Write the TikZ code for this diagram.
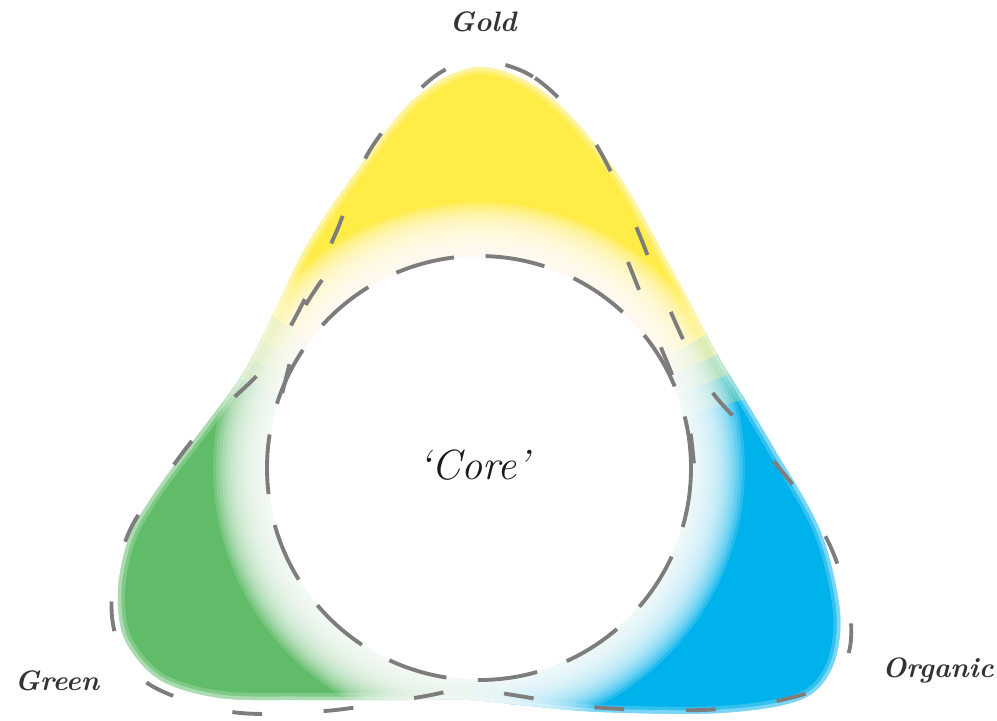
\documentclass[tikz,border=0pt]{standalone}
\usepackage{tikz}

\definecolor{goldyellow}{RGB}{255,236,70}
\definecolor{leafgreen}{RGB}{96,188,104}
\definecolor{skyblue}{RGB}{0,178,236}
\definecolor{dashgray}{RGB}{125,125,125}

% soft edge of the coloured area
\newcommand\lobeoutline{plot[smooth cycle, tension=0.55] coordinates {(480,67) (548,95) (615,170) (668,262) (715,350) (744,398) (772,445) (820,530) (840,612) (832,668) (800,700) (720,713) (600,712) (520,705) (470,700) (400,700) (300,700) (220,698) (160,680) (125,640) (118,590) (130,535) (160,485) (203,428) (243,373) (275,310) (305,248) (350,180) (415,98)}}

\tikzset{
  rimline/.style={dashgray, line width=1.1pt, dash pattern=on 8.5pt off 17.5pt},
  coreline/.style={dashgray, line width=1.1pt, dash pattern=on 17pt off 9pt},
  tagtext/.style={font=\fontsize{8}{10}\selectfont\bfseries\itshape, text=black!80}
}

\begin{document}
\begin{tikzpicture}[x=0.01cm, y=-0.01cm]
    \useasboundingbox (0,0) rectangle (997,720);
    \coordinate (c) at (479,468);

    % Coloured lobes, faded towards the core
    \begin{scope}
        \clip \lobeoutline;
        \fill[shift={(c)}, goldyellow] (0,0) -- (215.5:900) -- (273:900) -- (330.5:900) -- cycle;
        \fill[shift={(c)}, leafgreen] (0,0) -- (97.5:900) -- (150:900) -- (201.5:900) -- cycle;
        \fill[shift={(c)}, skyblue] (0,0) -- (-15.5:900) -- (34:900) -- (82.5:900) -- cycle;
        % blends between neighbours
        \fill[shift={(c)}, leafgreen!75!goldyellow] (0,0) -- (200.5:900) -- (206.5:900) -- cycle;
        \fill[shift={(c)}, leafgreen!50!goldyellow] (0,0) -- (205.5:900) -- (211.5:900) -- cycle;
        \fill[shift={(c)}, leafgreen!25!goldyellow] (0,0) -- (210.5:900) -- (216.5:900) -- cycle;
        \fill[shift={(c)}, goldyellow!75!skyblue] (0,0) -- (329.5:900) -- (335.5:900) -- cycle;
        \fill[shift={(c)}, goldyellow!50!skyblue] (0,0) -- (334.5:900) -- (340.5:900) -- cycle;
        \fill[shift={(c)}, goldyellow!25!skyblue] (0,0) -- (339.5:900) -- (345.5:900) -- cycle;
        \fill[shift={(c)}, skyblue!75!leafgreen] (0,0) -- (81.5:900) -- (87.5:900) -- cycle;
        \fill[shift={(c)}, skyblue!50!leafgreen] (0,0) -- (86.5:900) -- (93.5:900) -- cycle;
        \fill[shift={(c)}, skyblue!25!leafgreen] (0,0) -- (92.5:900) -- (98.5:900) -- cycle;
        % blurred rim
        \draw[white, line width=4pt, opacity=0.2] \lobeoutline;
        \draw[white, line width=2pt, opacity=0.35] \lobeoutline;
        % white haze round the core
        \foreach \r in {266,263,...,212}
            \fill[white, fill opacity=0.15] (c) circle (\r);
        \fill[white] (c) circle (211);
    \end{scope}

    % Dashed rim of the three lobes
    \draw[rimline] plot[smooth cycle, tension=0.55] coordinates {(478,61) (535,78) (590,135) (631,215) (663,294) (693,360) (716,397) (760,445) (800,495) (832,550) (850,612) (846,660) (810,692) (720,709) (604,708) (513,695) (470,688) (420,697) (325,711) (232,712) (152,686) (119,645) (112,595) (130,530) (170,470) (208,422) (262,370) (295,318) (335,235) (370,150) (430,80)};
    \draw[rimline] plot[smooth] coordinates {(322,280) (303,310) (296,338) (283,390) (270,440)};
    \draw[rimline] plot[smooth] coordinates {(628,262) (645,305) (660,345) (676,385) (690,430) (697,500)};

    % Core
    \draw[coreline] (c) circle (212);

    % Labels
    \node[tagtext] (gold) at (483,22) {Gold};
    \node[tagtext] (green) at (57,681) {Green};
    \node[tagtext] (organic) at (938,670) {Organic};
    \node[tagtext, font=\fontsize{12}{14}\selectfont\itshape, text=black!90] (core) at (474,465) {`Core'};
\end{tikzpicture}
\end{document}
